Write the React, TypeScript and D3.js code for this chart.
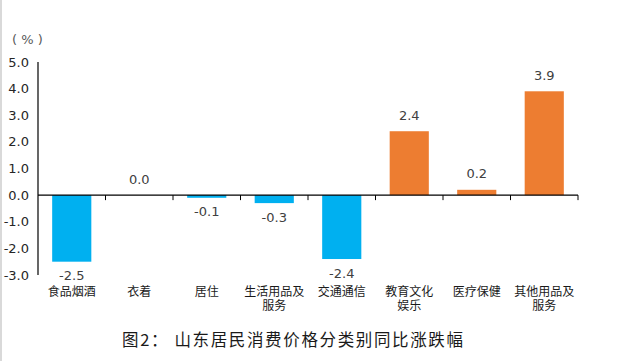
import React from "react";
import * as d3 from "d3";

const categories: string[][] = [
  ["食品烟酒"],
  ["衣着"],
  ["居住"],
  ["生活用品及", "服务"],
  ["交通通信"],
  ["教育文化", "娱乐"],
  ["医疗保健"],
  ["其他用品及", "服务"],
];
const values: number[] = [-2.5, 0.0, -0.1, -0.3, -2.4, 2.4, 0.2, 3.9];
const yTicks: number[] = [5, 4, 3, 2, 1, 0, -1, -2, -3];
const title = "图2：  山东居民消费价格分类别同比涨跌幅";
const unit = "( % )";

const W = 624;
const H = 361;
const left = 38;
const right = 578;
const yTop = 62;
const yBottom = 275;

export default function App() {
  const x = d3
    .scaleBand<number>()
    .domain(values.map((_, i) => i))
    .range([left, right])
    .paddingInner(0.42)
    .paddingOuter(0.21);
  const y = d3.scaleLinear().domain([-3, 5]).range([yBottom, yTop]);
  const step = (right - left) / values.length;
  const numFont = "'DejaVu Sans', sans-serif";
  const cjkFont = "'Noto Sans CJK SC', sans-serif";

  return (
    <div style={{ position: "absolute", left: 0, top: 0 }}>
      <svg width={W} height={H} style={{ display: "block", background: "#fff" }}>
        <line x1={1} x2={1} y1={0} y2={H} stroke="#d9d9d9" strokeWidth={2} />
        <text x={12} y={44} fontFamily={numFont} fontSize={13} fill="#595959">
          {unit}
        </text>
        {yTicks.map((t) => (
          <text
            key={t}
            x={29}
            y={y(t)}
            dy="0.35em"
            textAnchor="end"
            fontFamily={numFont}
            fontSize={13}
            fill="#262626"
          >
            {t.toFixed(1)}
          </text>
        ))}
        <line x1={left} x2={left} y1={y(5)} y2={y(-3)} stroke="#000" strokeWidth={1.2} />
        {values.map((v, i) => {
          const y0 = y(0);
          const yv = y(v);
          const color = v >= 0 ? "#ED7D31" : "#00B0F0";
          const h = Math.abs(yv - y0);
          return (
            <g key={i}>
              {h > 0 && (
                <rect
                  x={x(i)}
                  y={Math.min(y0, yv)}
                  width={x.bandwidth()}
                  height={h}
                  fill={color}
                />
              )}
              <text
                x={x(i)! + x.bandwidth() / 2}
                y={v >= 0 ? yv - 16 : yv + 14}
                dy="0.35em"
                textAnchor="middle"
                fontFamily={numFont}
                fontSize={13}
                fill="#404040"
              >
                {v.toFixed(1)}
              </text>
            </g>
          );
        })}
        <line x1={left} x2={right} y1={y(0)} y2={y(0)} stroke="#000" strokeWidth={1.2} />
        {d3.range(1, values.length + 1).map((k) => (
          <line
            key={k}
            x1={left + k * step}
            x2={left + k * step}
            y1={y(0)}
            y2={y(0) + 5}
            stroke="#000"
            strokeWidth={1}
          />
        ))}
        {categories.map((lines, i) => {
          const cx = x(i)! + x.bandwidth() / 2;
          return (
            <text
              key={i}
              y={292}
              textAnchor="middle"
              fontFamily={cjkFont}
              fontSize={12}
              fill="#1a1a1a"
            >
              {lines.map((ln, j) => (
                <tspan key={j} x={cx} dy={j === 0 ? "0.35em" : 14}>
                  {ln}
                </tspan>
              ))}
            </text>
          );
        })}
        <text
          x={122}
          y={340}
          dy="0.35em"
          textLength={341}
          lengthAdjust="spacing"
          fontFamily={cjkFont}
          fontSize={16.5}
          fill="#1a1a1a"
        >
          {title}
        </text>
      </svg>
    </div>
  );
}
